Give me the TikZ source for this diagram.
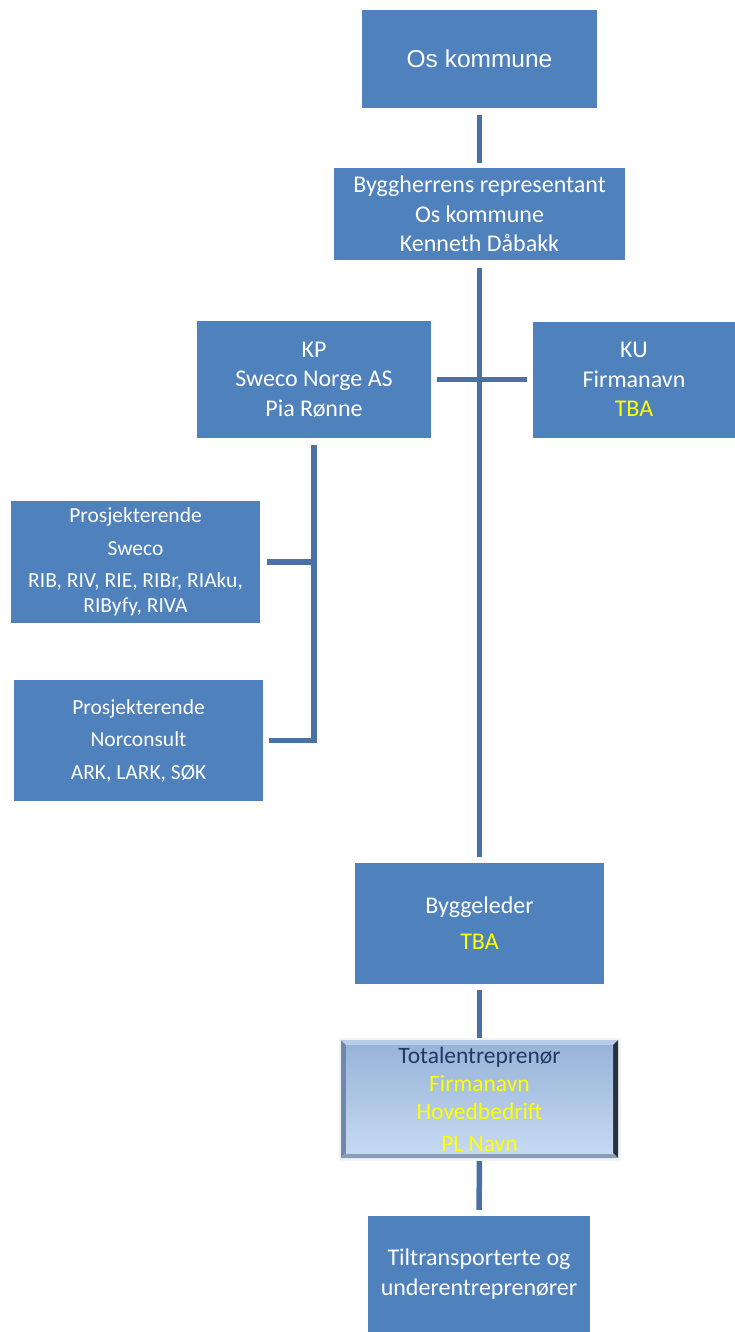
\documentclass[tikz,border=0pt]{standalone}
\usepackage{fontspec}
\setmainfont{Carlito}
\newfontfamily\arialf{Liberation Sans}
\definecolor{boxblue}{HTML}{4F81BD}
\definecolor{lineblue}{HTML}{4A70A6}
\definecolor{tba}{HTML}{FFFF00}
\definecolor{darktxt}{HTML}{1F3A64}
\definecolor{bevtop}{HTML}{97B4D9}
\definecolor{bevbot}{HTML}{C6D9F1}
\definecolor{bevedgetop}{HTML}{B8CDE8}
\definecolor{bevedgeleft}{HTML}{6F89AC}
\definecolor{bevedgeright}{HTML}{28313D}
\definecolor{bevedgebot}{HTML}{8A9DB6}
\begin{document}
\begin{tikzpicture}[x=1pt,y=-1pt,
  box/.style={fill=boxblue,text=white,align=center,inner sep=0pt,
    font=\fontsize{24}{29.5}\selectfont},
  small/.style={font=\fontsize{21.5}{24.5}\selectfont},
  conn/.style={draw=lineblue,line width=5.5pt}]
\useasboundingbox (0,0) rectangle (735,1332);

\node[box,minimum width=235pt,minimum height=98pt,font=\arialf\fontsize{24.5}{28}\selectfont] (os) at (479.5,59) {Os kommune};
\node[box,minimum width=291pt,minimum height=91pt] (bygg) at (479.5,214)
  {Byggherrens representant\\Os kommune\\Kenneth Dåbakk};
\node[box,minimum width=234pt,minimum height=117pt] (kp) at (314,379.5)
  {KP\\Sweco Norge AS\\Pia Rønne};
\node[box,minimum width=202pt,minimum height=116pt] (ku) at (634,379.5)
  {KU\\Firmanavn\\\textcolor{tba}{TBA}};
\node[box,small,minimum width=249pt,minimum height=122pt] (sweco) at (135.5,562)
  {Prosjekterende\\[8pt]Sweco\\[8pt]RIB, RIV, RIE, RIBr, RIAku,\\RIByfy, RIVA};
\node[box,small,minimum width=249pt,minimum height=121pt] (norc) at (138.5,740.5)
  {Prosjekterende\\[8pt]Norconsult\\[8pt]ARK, LARK, SØK};
\node[box,minimum width=249pt,minimum height=121pt] (byggeleder) at (479.5,923.5)
  {Byggeleder\\[6.5pt]\textcolor{tba}{TBA}};

% bevelled box
\fill[black!5] (339,1038) rectangle (621,1161);
\fill[fill=bevedgetop] (341,1040) -- (618,1040) -- (613,1045) -- (346,1045) -- cycle;
\fill[fill=bevedgeleft] (341,1040) -- (346,1045) -- (346,1153) -- (341,1158) -- cycle;
\fill[fill=bevedgeright] (618,1040) -- (613,1045) -- (613,1153) -- (618,1158) -- cycle;
\fill[fill=bevedgebot] (341,1158) -- (346,1153) -- (613,1153) -- (618,1158) -- cycle;
\node[top color=bevtop,bottom color=bevbot,draw=none,minimum width=267pt,minimum height=108pt,
  inner sep=0pt,align=center,text=darktxt,font=\fontsize{23.5}{28}\selectfont] (total) at (479.5,1099.5)
  {Totalentreprenør\\\textcolor{tba}{Firmanavn}\\\textcolor{tba}{Hovedbedrift}\\[4pt]\textcolor{tba}{PL Navn}};
\coordinate (totaltop) at (479.5,1040);
\coordinate (totalbot) at (479.5,1158);

\node[box,minimum width=222pt,minimum height=116pt] (tilt) at (479,1274)
  {Tiltransporterte og\\underentreprenører};

% connectors
\draw[conn,shorten <=7pt,shorten >=5pt] (os) -- (bygg);
\draw[conn,shorten <=8pt,shorten >=6pt] (bygg) -- (byggeleder);
\draw[conn,shorten <=6pt,shorten >=6pt] (kp.east) -- (ku.west);
\draw[conn,shorten <=7pt,shorten >=6pt,line join=miter] (kp.south) |- (norc.east);
\draw[conn,shorten >=7pt] (kp.south |- sweco.east) -- (sweco.east);
\draw[conn,shorten <=6pt,shorten >=2pt] (byggeleder.south) -- (totaltop);
\draw[conn,shorten <=3pt,shorten >=6pt] (totalbot) -- (tilt.north);
\end{tikzpicture}
\end{document}
